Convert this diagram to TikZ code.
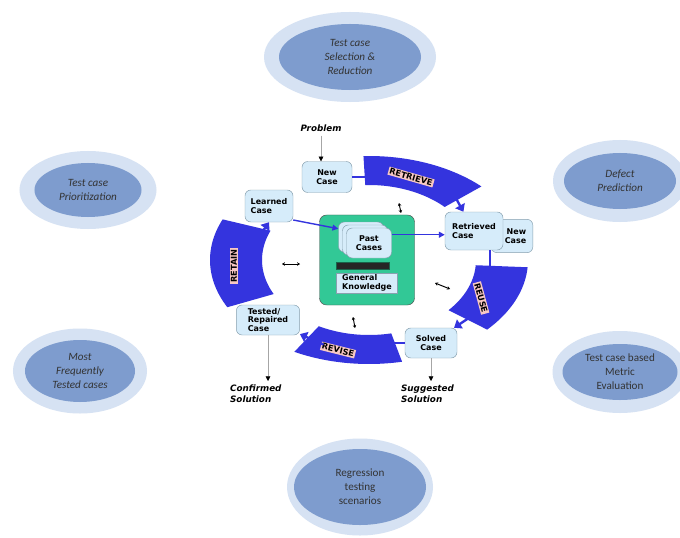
\documentclass[tikz,border=0pt]{standalone}
\usepackage{fontspec}
\setmainfont{Carlito}
\newfontfamily\cyclefont{DejaVu Sans}
\usetikzlibrary{arrows.meta, positioning, shapes.geometric}

\definecolor{ringblue}{RGB}{214,226,243}
\definecolor{ovalblue}{RGB}{126,156,206}
\definecolor{bandblue}{RGB}{52,52,222}
\definecolor{casefill}{RGB}{214,236,250}
\definecolor{caseline}{RGB}{135,160,175}
\definecolor{kbgreen}{RGB}{50,200,150}
\definecolor{lblpink}{RGB}{247,200,196}

\begin{document}
\begin{tikzpicture}[
        x=0.03cm, y=-0.03cm,
        ring/.style={ellipse, fill=ringblue, inner sep=0pt},
        oval/.style={ellipse, fill=ovalblue, inner sep=0pt, align=center, text=black!80, font=\fontsize{9.5}{12}\selectfont\itshape},
        ovalup/.style={oval, font=\fontsize{9.5}{12}\selectfont},
        casebox/.style={rectangle, rounded corners=5pt, draw=caseline, fill=casefill, inner sep=2pt, align=left, font=\cyclefont\bfseries\fontsize{6.8}{7.4}\selectfont},
        bandlbl/.style={rectangle, fill=lblpink, inner sep=1pt, font=\cyclefont\bfseries\fontsize{7}{7}\selectfont},
        link/.style={draw=bandblue, line width=1.2pt},
        flow/.style={link, -{Triangle[length=5pt, width=5pt]}},
        bandtip/.style={draw=bandblue, line width=2pt, -{Triangle[length=6pt, width=9pt]}},
        outlink/.style={draw=black!35, thin, -{Triangle[length=4pt, width=4pt, color=black]}},
        swap/.style={thick, {Stealth[length=2.5pt, width=3pt]}-{Stealth[length=2.5pt, width=3pt]}},
        outtext/.style={align=left, font=\cyclefont\bfseries\itshape\fontsize{7.5}{9.5}\selectfont}
    ]
        \path[use as bounding box, fill=white] (0,0) rectangle (680,537);

        % outer ovals
        \node[ring, minimum width=5.16cm, minimum height=2.7cm] (selRing) at (350,57) {};
        \node[oval, minimum width=4.26cm, minimum height=1.98cm] (sel) at (350,57) {Test case\\Selection \&\\Reduction};
        \node[ring, minimum width=4.11cm, minimum height=2.34cm] (prioRing) at (88,190) {};
        \node[oval, minimum width=3.21cm, minimum height=1.62cm] (prio) at (88,190) {Test case\\Prioritization};
        \node[ring, minimum width=4.02cm, minimum height=2.46cm] (defectRing) at (620,181) {};
        \node[oval, minimum width=3.36cm, minimum height=1.68cm] (defect) at (620,181) {Defect\\Prediction};
        \node[ring, minimum width=4.02cm, minimum height=2.55cm] (freqRing) at (80,371) {};
        \node[oval, minimum width=3.3cm, minimum height=1.86cm] (freq) at (80,371) {Most\\Frequently\\Tested cases};
        \node[ring, minimum width=4.05cm, minimum height=2.46cm] (metricRing) at (620,372) {};
        \node[ovalup, minimum width=3.45cm, minimum height=1.68cm] (metric) at (620,372) {Test case based\\Metric\\Evaluation};
        \node[ring, minimum width=4.38cm, minimum height=2.91cm] (regRing) at (360,487) {};
        \node[ovalup, minimum width=3.96cm, minimum height=2.28cm] (reg) at (360,487) {Regression\\testing\\scenarios};

        % cycle bands
        \fill[bandblue] plot[domain=-92:-45, samples=30] ({369+159*cos(\x)}, {260+104*sin(\x)}) -- plot[domain=-45:-92, samples=30] ({369+107*cos(\x)}, {260+75*sin(\x)}) -- cycle;
        \fill[bandblue] plot[domain=4:42, samples=30] ({369+159*cos(\x)}, {260+104*sin(\x)}) -- plot[domain=42:4, samples=30] ({369+107*cos(\x)}, {260+75*sin(\x)}) -- cycle;
        \fill[bandblue] plot[domain=78:118, samples=30] ({369+159*cos(\x)}, {260+104*sin(\x)}) -- plot[domain=118:78, samples=30] ({369+107*cos(\x)}, {260+75*sin(\x)}) -- cycle;
        \fill[bandblue] plot[domain=153:203, samples=30] ({369+159*cos(\x)}, {260+104*sin(\x)}) -- plot[domain=203:153, samples=30] ({369+107*cos(\x)}, {260+75*sin(\x)}) -- cycle;

        \coordinate (retrieveIn) at (372,177);
        \coordinate (retrieveOut) at ({369+133*cos(-52)}, {260+90*sin(-52)});
        \coordinate (reuseIn) at (490,270);
        \coordinate (reuseOut) at ({369+133*cos(36)}, {260+90*sin(36)});
        \coordinate (reviseIn) at ({369+133*cos(80)}, {260+90*sin(80)});
        \coordinate (reviseOut) at ({369+133*cos(110)}, {260+90*sin(110)});
        \coordinate (retainOut) at ({369+115*cos(197)}, {260+80*sin(197)});

        % case knowledge base
        \node[draw=black!70, fill=kbgreen, rounded corners=6pt, minimum width=2.85cm, minimum height=2.7cm] (kb) at (367,260) {};
        \node[casebox, minimum width=1.35cm, minimum height=0.9cm] (pastback) at (361,237) {};
        \node[casebox, minimum width=1.35cm, minimum height=0.9cm] (pastmid) at (365,240) {};
        \node[casebox, minimum width=1.35cm, minimum height=0.9cm, align=center] (pastfront) at (369,243) {Past\\Cases};
        \node[fill=black!85, draw=kbgreen!50!black, minimum width=1.59cm, minimum height=0.21cm, inner sep=0pt] (lessons) at (363,266) {};
        \node[casebox, rounded corners=0pt, minimum width=1.83cm, minimum height=0.6cm, inner sep=1pt] (general) at (367,283) {General\\Knowledge};

        % cases round the cycle
        \node[casebox, minimum width=1.5cm, minimum height=0.93cm, align=center] (newcase) at (327,177) {New\\Case};
        \node[casebox, minimum width=1.44cm, minimum height=0.96cm] (learned) at (269,206) {Learned\\Case};
        \node[casebox, minimum width=1.25cm, minimum height=1.0cm, text width=0.85cm, align=right] (retrievednew) at (512,236) {New\\Case};
        \node[casebox, minimum width=1.74cm, minimum height=1.14cm] (retrieved) at (474,231) {Retrieved\\Case};
        \node[casebox, minimum width=1.56cm, minimum height=0.9cm, align=center] (solved) at (431,343) {Solved\\Case};
        \node[casebox, minimum width=1.9cm, minimum height=0.9cm] (tested) at (268,320) {Tested/\\Repaired\\Case};

        \node[bandlbl, rotate=-16] (retrieveLbl) at (411,177) {RETRIEVE};
        \node[bandlbl, rotate=-75] (reuseLbl) at (481,298) {REUSE};
        \node[bandlbl, rotate=-14] (reviseLbl) at (338,350) {REVISE};
        \node[bandlbl, rotate=90] (retainLbl) at (234,266) {RETAIN};

        \draw[link] (newcase.east) -- (retrieveIn);
        \draw[bandtip] (retrieveOut) -- (retrieved);
        \draw[link] (retrieved.south -| reuseIn) -- (reuseIn);
        \draw[bandtip] (reuseOut) -- (solved);
        \draw[link] (solved.west) -- (solved.west -| reviseIn);
        \draw[bandtip] (reviseOut) -- (tested);
        \draw[bandtip] (retainOut) -- (learned.south);

        \draw[flow] (learned.-30) -- (pastback.160);
        \draw[flow] (pastfront.20) -- (pastfront.20 -| retrieved.west);

        % problem and solutions
        \node[outtext] (problem) at (321,128) {Problem};
        \draw[outlink] (problem.south) -- (problem.south |- newcase.north);
        \node[outtext, anchor=north west] (confirmed) at (226,381) {Confirmed\\Solution};
        \draw[outlink] (tested.south) -- (tested.south |- confirmed.north);
        \node[outtext, anchor=north west] (suggested) at (397,381) {Suggested\\Solution};
        \draw[outlink] (solved.south) -- (solved.south |- suggested.north);

        % exchange with the knowledge base
        \coordinate (swapTopA) at (399,203);
        \coordinate (swapTopB) at (401,213);
        \coordinate (swapLeftA) at (282,264);
        \coordinate (swapLeftB) at (300,264);
        \coordinate (swapRightA) at (435,283);
        \coordinate (swapRightB) at (450,289);
        \coordinate (swapBotA) at (353,317);
        \coordinate (swapBotB) at (355,328);
        \draw[swap] (swapTopA) -- (swapTopB);
        \draw[swap] (swapLeftA) -- (swapLeftB);
        \draw[swap] (swapRightA) -- (swapRightB);
        \draw[swap] (swapBotA) -- (swapBotB);

    \end{tikzpicture}
\end{document}
